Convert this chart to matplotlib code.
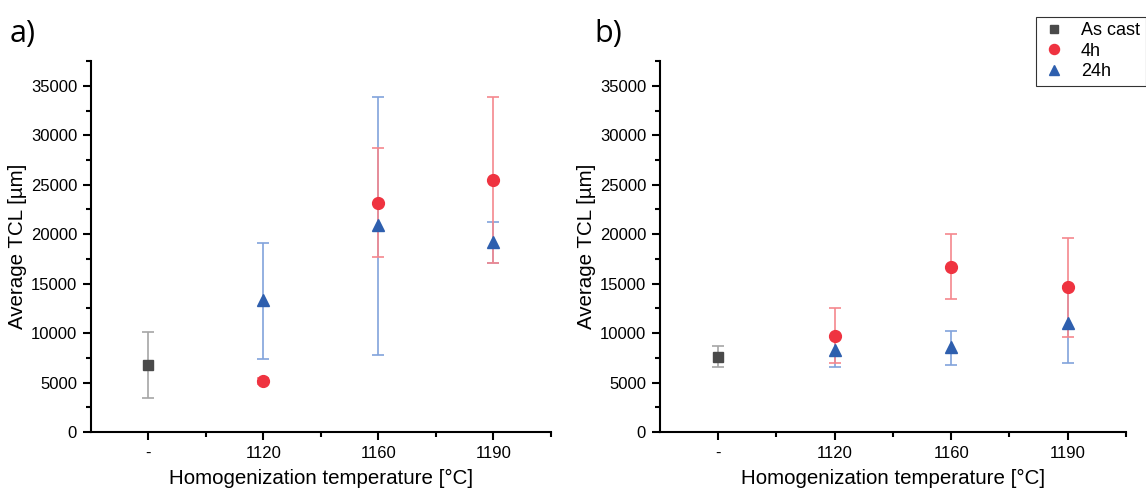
import matplotlib
matplotlib.use("Agg")
import matplotlib.pyplot as plt
from matplotlib.ticker import MultipleLocator, FixedLocator

plt.rcParams['font.family'] = ['Liberation Sans', 'DejaVu Sans']

categories = ['-', '1120', '1160', '1190']

# panel a)
a_cast_y = [6800]
a_cast_lo = [3450]
a_cast_hi = [10100]
a_4h_y = [5150, 23150, 25450]
a_4h_lo = [4850, 17650, 17100]
a_4h_hi = [5450, 28700, 33850]
a_24h_y = [13300, 20900, 19250]
a_24h_lo = [7350, 7750, 17100]
a_24h_hi = [19100, 33900, 21200]

# panel b)
b_cast_y = [7600]
b_cast_lo = [6550]
b_cast_hi = [8650]
b_4h_y = [9750, 16700, 14650]
b_4h_lo = [6950, 13450, 9650]
b_4h_hi = [12550, 20000, 19600]
b_24h_y = [8250, 8550, 11000]
b_24h_lo = [6550, 6750, 7000]
b_24h_hi = [9600, 10200, 14800]

c_cast, e_cast = '#4a4a4a', '#a6a6a6'
c_4h, e_4h = '#ef3340', '#f5878d'
c_24h, e_24h = '#2e5fae', '#82a3dc'


def draw(ax, cast, h4, h24):
    x_cast = [1]
    x_rest = [2, 3, 4]
    for xs, (y, lo, hi), ec in [
        (x_cast, cast, e_cast),
        (x_rest, h24, e_24h),
        (x_rest, h4, e_4h),
    ]:
        err = [[v - l for v, l in zip(y, lo)], [h - v for v, h in zip(y, hi)]]
        ax.errorbar(xs, y, yerr=err, fmt='none', ecolor=ec, elinewidth=1.2,
                    capsize=4.5, capthick=1.2, zorder=2)
    ax.plot(x_cast, cast[0], 's', color=c_cast, ms=7.5, zorder=3, label='As cast')
    ax.plot(x_rest, h4[0], 'o', color=c_4h, ms=8.5, zorder=3, label='4h')
    ax.plot(x_rest, h24[0], '^', color=c_24h, ms=9, zorder=3, label='24h')

    ax.set_xlim(0.5, 4.5)
    ax.set_ylim(0, 37500)
    ax.xaxis.set_major_locator(FixedLocator([1, 2, 3, 4]))
    ax.xaxis.set_minor_locator(FixedLocator([1.5, 2.5, 3.5, 4.5]))
    ax.set_xticklabels(categories)
    ax.yaxis.set_major_locator(FixedLocator(range(0, 35001, 5000)))
    ax.yaxis.set_minor_locator(MultipleLocator(2500))
    for s in ['top', 'right']:
        ax.spines[s].set_visible(False)
    for s in ['left', 'bottom']:
        ax.spines[s].set_linewidth(1.5)
    ax.tick_params(which='major', length=6, width=1.5, labelsize=12, pad=4)
    ax.tick_params(which='minor', length=3.5, width=1.5)
    ax.set_xlabel('Homogenization temperature [°C]', fontsize=14.8, labelpad=6)
    ax.set_ylabel('Average TCL [µm]', fontsize=14.8, labelpad=3)


fig = plt.figure(figsize=(11.46, 4.9), dpi=100)
ax1 = fig.add_axes([0.0794, 0.1184, 0.4014, 0.757])
ax2 = fig.add_axes([0.5759, 0.1184, 0.4066, 0.757])

draw(ax1, (a_cast_y, a_cast_lo, a_cast_hi), (a_4h_y, a_4h_lo, a_4h_hi),
     (a_24h_y, a_24h_lo, a_24h_hi))
draw(ax2, (b_cast_y, b_cast_lo, b_cast_hi), (b_4h_y, b_4h_lo, b_4h_hi),
     (b_24h_y, b_24h_lo, b_24h_hi))

fig.text(0.008, 0.915, 'a)', fontsize=22, family=['Open Sans', 'DejaVu Sans'])
fig.text(0.519, 0.915, 'b)', fontsize=22, family=['Open Sans', 'DejaVu Sans'])

handles, labels = ax2.get_legend_handles_labels()
leg = fig.legend(handles, labels, loc='upper left', bbox_to_anchor=(0.904, 0.966),
                 fontsize=13, frameon=True, fancybox=False, edgecolor='black',
                 handlelength=1.4, handletextpad=0.8, borderpad=0.3,
                 labelspacing=0.2, markerscale=0.85, borderaxespad=0)
leg.get_frame().set_linewidth(0.8)

fig.savefig('out.png', dpi=100)
